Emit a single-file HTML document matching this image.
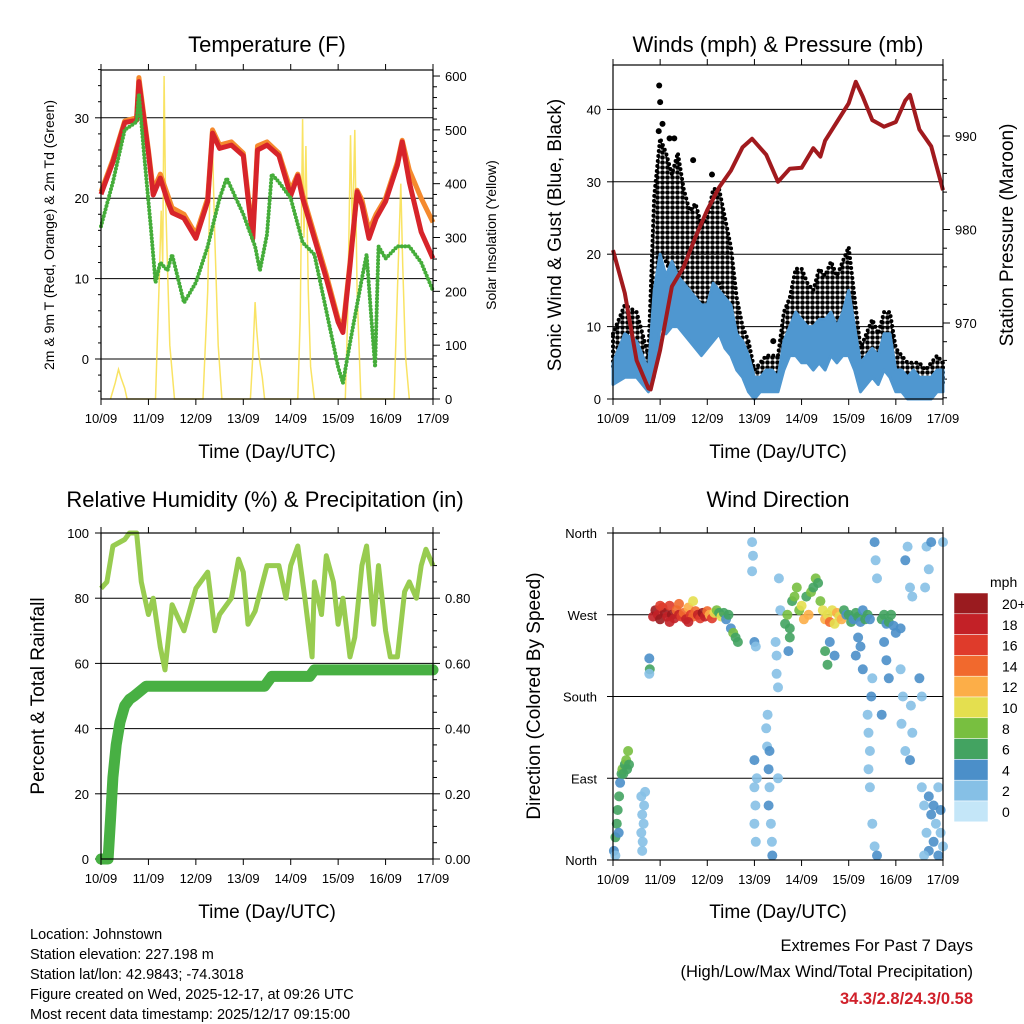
<!DOCTYPE html>
<html><head><meta charset="utf-8"><style>
html,body{margin:0;padding:0;background:#fff}
svg{display:block;font-family:"Liberation Sans",sans-serif}
</style></head><body>
<svg id="s" width="1024" height="1024" viewBox="0 0 1024 1024" xmlns="http://www.w3.org/2000/svg">
<defs>
<pattern id="dotpat" width="5" height="5" patternUnits="userSpaceOnUse"><circle cx="2.5" cy="2.5" r="2.3" fill="#000"/></pattern>
</defs>
</svg>
<script>
// ---------- DATA ----------
const dayLabels=["10/09","11/09","12/09","13/09","14/09","15/09","16/09","17/09"];
const tDays=[0,0.25,0.5,0.75,0.8,1.0,1.1,1.25,1.4,1.5,1.75,2.0,2.25,2.35,2.5,2.75,3.0,3.1,3.2,3.3,3.5,3.75,4.0,4.15,4.25,4.5,4.75,5.0,5.1,5.25,5.4,5.5,5.65,5.8,6.0,6.25,6.35,6.5,6.75,7.0];
const temp2m=[20.5,24.5,29.4,29.7,34.5,25.7,20.4,22.5,19.7,18.2,17.5,15,19.6,28.1,26.2,26.6,25.3,20,15,26,26.6,25.3,20.3,22.8,20,15,10,4.6,3.3,11.6,20.8,19.2,15,17.5,19.6,24.1,27,22,15.8,12.5];
const temp9m=[20.8,24.8,29.6,30,35,26,21,23,20.5,18.8,18,15.5,20,28.5,26.6,27,25.6,20.5,15.5,26.5,27,25.6,21,23,20.5,15.5,10.5,5,3.8,12,21,19.8,16,18,20,24.5,27.2,23.5,20,17];
const tdDays=[0,0.25,0.5,0.75,0.8,0.9,1.05,1.15,1.25,1.4,1.5,1.75,2.0,2.25,2.5,2.65,3.0,3.25,3.35,3.5,3.6,3.75,4.0,4.25,4.5,4.75,5.0,5.1,5.25,5.5,5.6,5.7,5.78,5.85,6.0,6.25,6.5,6.75,7.0];
const dewpt=[16.5,22,28.5,29.5,33,26,16.4,9.5,12,11,13,7,9.5,14,20,22.5,18,14,11,15.5,23,22,20,14.5,13,6,-1,-3,2,10,13,5,-1,14,12.5,14,14,12,8.5];
const solarT=[0.2,0.3,0.37,0.42,0.5,0.55,1.15,1.22,1.27,1.3,1.33,1.36,1.4,1.45,1.55,2.15,2.25,2.3,2.35,2.4,2.47,2.55,3.15,3.2,3.25,3.28,3.33,3.4,3.45,4.15,4.2,4.25,4.28,4.32,4.37,4.42,4.5,5.15,5.2,5.26,5.3,5.35,5.4,5.48,6.18,6.25,6.32,6.36,6.42,6.5];
const solarV=[0,30,55,40,20,0,0,200,350,250,600,380,250,100,0,0,200,400,470,300,100,0,0,80,180,130,80,40,0,0,150,520,300,470,200,60,0,0,150,490,300,500,200,0,0,200,400,250,80,0];

const wDays=[0,0.25,0.5,0.75,0.875,1.0,1.125,1.25,1.375,1.5,1.625,1.75,1.875,2.0,2.125,2.25,2.375,2.5,2.625,2.75,2.875,3.0,3.125,3.25,3.375,3.5,3.625,3.75,3.875,4.0,4.125,4.25,4.375,4.5,4.625,4.75,4.875,5.0,5.125,5.25,5.375,5.5,5.625,5.75,5.875,6.0,6.125,6.25,6.375,6.5,6.625,6.75,6.875,7.0];
const gustHi=[9,13,12,6,28,36,34,31,34,29,26,27,24,25,29,29,25,21,14,10,8,4,5,6,6,6,12,14,18,18,16,15,18,17,19,17,19,21,14,7,9,11,9,12,12,7,6,5,5,5,4,5,6,5];
const gustLo=[4,5,3,2,8,20,19,17,16,15,13,14,13,12,15,16,14,10,6,4,2,0,2,3,3,3,6,8,9,8,9,8,8,9,11,10,10,11,6,3,4,5,4,6,6,3,2,2,2,1,1,2,2,2];
const windHi=[5,9,8,4,15,20,17,19,17,16,15,14,13,13,16,15,14,13,9,8,6,3,3,4,4,3,8,10,12,11,10,10,11,11,12,10,12,15,10,5,6,7,6,9,9,4,4,3,4,3,3,3,4,4];
const windLo=[2,3,3,1,3,10,9,10,10,9,8,7,6,7,8,9,7,6,4,3,1,0,1,1,1,1,4,6,6,5,5,4,5,4,6,5,6,6,4,1,2,3,2,4,3,1,1,0,0,0,0,0,1,1];
const gustPeakT=[0.98,1.0,0.97,1.05,1.2,1.3,2.1,1.7,3.4];
const gustPeakV=[43.3,41,37,38,36,36,31,33,8];
const presDays=[0,0.25,0.5,0.75,0.8,1.0,1.25,1.5,1.75,2.0,2.25,2.5,2.75,2.95,3.25,3.5,3.75,4.0,4.25,4.4,4.5,4.75,5.0,5.15,5.3,5.5,5.75,6.0,6.2,6.3,6.5,6.75,7.0];
const pressure=[977.8,973.2,966,963,962.9,967.1,973.9,976,979.2,982.1,984.5,986.3,988.8,989.7,988,985.1,986.5,986.6,988.7,987.8,989.5,991.5,993.5,995.8,994.2,991.7,991,991.5,993.8,994.4,990.7,988.9,984.2];

const rhDays=[0,0.125,0.25,0.5,0.6,0.75,0.85,1.0,1.1,1.25,1.35,1.5,1.75,2.0,2.25,2.4,2.5,2.75,2.9,3.0,3.1,3.25,3.5,3.75,3.9,4.0,4.15,4.3,4.45,4.5,4.65,4.75,4.9,5.0,5.1,5.25,5.35,5.5,5.6,5.75,5.85,6.0,6.1,6.25,6.4,6.5,6.65,6.75,6.85,7.0];
const rhPct=[83,85,96,98,100,100,85,75,80,65,58,78,70,83,88,70,75,80,92,88,72,76,90,90,80,90,96,80,62,85,75,93,85,72,80,62,68,90,96,72,90,70,62,62,82,85,80,90,95,90];
const rainDays=[0,0.15,0.2,0.25,0.32,0.4,0.5,0.6,0.7,0.95,3.45,3.6,4.4,4.5,7.0];
const rainIn=[0,0,0.12,0.25,0.35,0.42,0.47,0.49,0.50,0.53,0.53,0.56,0.56,0.58,0.58];

const dirDay=[0.02,0.05,0.08,0.1,0.13,0.15,0.18,0.2,0.22,0.25,0.28,0.3,0.32,0.34,0.05,0.12,0.6,0.62,0.6,0.65,0.63,0.66,0.62,0.68,0.77,0.78,0.77,
0.85,0.9,0.95,1.0,1.05,1.1,1.15,1.2,1.25,1.3,1.35,1.4,1.45,1.5,1.55,1.6,1.65,1.7,1.75,1.8,1.85,1.9,1.95,2.0,2.05,2.1,2.15,2.2,2.25,2.3,2.35,2.4,2.45,2.5,2.55,2.6,2.65,1.4,1.0,1.7,1.2,1.6,
2.95,2.97,2.95,3.0,3.03,3.0,3.0,3.02,3.0,3.03,3.05,3.25,3.27,3.3,3.32,3.3,3.35,3.37,3.38,3.28,3.32,3.45,3.47,3.47,3.5,3.52,3.55,3.5,
3.65,3.7,3.75,3.8,3.85,3.9,3.95,4.0,4.05,4.1,4.15,4.2,4.25,4.3,4.35,4.4,4.45,4.5,4.55,4.6,4.65,4.7,4.75,4.8,4.85,4.5,4.55,4.6,4.7,3.75,3.72,4.9,4.95,
5.0,5.05,5.1,5.15,5.2,5.25,5.3,5.35,5.4,5.45,5.2,5.15,5.25,5.3,
5.4,5.42,5.45,5.42,5.45,5.5,5.55,5.6,5.55,5.57,5.6,5.5,5.48,
5.7,5.75,5.8,5.85,5.9,5.95,5.75,5.8,5.85,5.7,6.0,6.1,6.1,6.15,6.12,6.2,6.25,6.3,6.35,6.32,6.35,6.3,6.2,
6.55,6.6,6.65,6.7,6.75,6.8,6.85,6.9,6.95,7.0,6.7,6.8,6.9,6.95,6.6,6.65,6.7,6.62,6.75,7.0,6.55,6.5];
const dirDeg=[10,25,40,55,70,85,95,100,95,105,110,100,120,105,5,30,30,50,70,40,20,60,10,75,222,210,205,
268,275,270,265,278,272,268,280,270,266,275,270,268,272,265,278,270,268,274,270,266,272,268,274,270,266,272,275,272,268,272,265,270,255,250,245,240,282,280,285,262,262,
350,335,318,240,235,110,80,60,40,20,90,145,125,100,80,60,40,20,5,160,120,240,225,205,190,310,275,90,
260,270,255,285,290,300,275,280,265,290,270,295,300,310,305,285,275,265,270,262,275,260,272,268,265,230,215,240,225,245,230,275,270,
270,262,265,272,268,262,275,265,270,265,245,225,235,210,
160,140,120,100,80,40,15,5,350,330,310,200,180,
265,270,260,262,270,258,240,220,200,160,250,255,210,180,150,330,345,300,290,170,140,110,120,
80,60,30,10,50,20,40,5,30,15,70,60,80,55,5,345,320,300,350,350,180,200];
const dirSpd=[4,5,6,5,6,4,6,7,6,6,7,5,7,6,2,4,2,2,2,2,2,2,2,1,4,6,2,
18,20,18,20,16,20,18,16,20,18,14,18,16,14,18,12,16,14,14,18,16,20,18,14,12,16,10,8,6,10,6,4,6,4,8,6,6,14,16,10,18,18,
1,1,2,4,2,4,2,1,2,1,1,2,2,4,2,4,2,2,4,2,4,2,2,2,2,1,1,1,
6,8,6,6,8,8,8,10,12,6,12,8,6,8,6,8,10,12,10,14,10,10,12,10,12,6,6,4,4,6,4,6,4,
6,6,4,6,6,4,4,6,6,4,4,4,4,4,
2,2,2,2,1,1,2,4,4,2,2,2,4,
6,6,4,6,6,4,4,4,4,4,4,4,2,2,2,4,2,2,2,2,2,4,2,
2,2,2,4,4,4,2,4,2,2,4,4,2,4,2,2,2,2,4,2,2,4];
const legendLabels=["20+","18","16","14","12","10","8","6","4","2","0"];
const speedColors=["#c4e6f8","#86c0e6","#4b8fc9","#43a361","#78bf40","#e4df4f","#fcae48","#f1692d","#df3b2b","#c32127","#9a1b1f"];

// ---------- HELPERS ----------
const S=document.getElementById('s');
const NS='http://www.w3.org/2000/svg';
function mk(tag,attrs,parent){const e=document.createElementNS(NS,tag);for(const k in attrs)e.setAttribute(k,attrs[k]);(parent||S).appendChild(e);return e;}
function txt(x,y,str,size,anchor,parent,extra){const t=mk('text',Object.assign({x:x,y:y,'font-size':size,'text-anchor':anchor||'middle',fill:'#000'},extra||{}),parent);t.textContent=str;return t;}
function poly(xs,ys,fx,fy){return xs.map((v,i)=>fx(v).toFixed(1)+','+fy(ys[i]).toFixed(1)).join(' ');}
function grp(name){const g=mk('g',{});return g;}

function frame(g,L,T,R,B,fx){
  for(let d=0;d<=7;d++){const x=fx(d);
    mk('line',{x1:x,y1:B,x2:x,y2:B+6,stroke:'#000','stroke-width':1},g);
    mk('line',{x1:x,y1:T,x2:x,y2:T-6,stroke:'#000','stroke-width':1},g);
    const t=txt(x,B+24,dayLabels[d],13,'middle',g);
    
    
  }
}
function box(g,L,T,R,B){const r=mk('rect',{x:L,y:T,width:R-L,height:B-T,fill:'none',stroke:'#000','stroke-width':1.2},g);}

// ================= PANEL 1: TEMPERATURE =================
(function(){
  const g=grp('temperature-panel');
  const L=101,T=70,R=433,B=399;
  const fx=d=>L+d*47.43, fy=v=>359-v*8.04, fs=v=>399-v*0.5383;
  [0,10,20,30].forEach(v=>{mk('line',{x1:L,y1:fy(v),x2:R,y2:fy(v),stroke:'#000','stroke-width':1},g);
    mk('line',{x1:L-6,y1:fy(v),x2:L,y2:fy(v),stroke:'#000'},g);
    const t=txt(L-12,fy(v)+5,String(v),13,'end',g);});
  for(let v=-4;v<=36;v+=2){if(v%10)mk('line',{x1:L-3,y1:fy(v),x2:L,y2:fy(v),stroke:'#000'},g);}
  for(let v=0;v<=600;v+=20){const y=fs(v);if(y<T)continue;mk('line',{x1:R,y1:y,x2:R+(v%100?4:7),y2:y,stroke:'#000'},g);
    if(v%100===0){const t=txt(R+12,y+5,String(v),13,'start',g);}}
  const solar=mk('polyline',{points:poly(solarT,solarV,fx,fs),fill:'none',stroke:'#f7dc3c','stroke-width':1.5,'stroke-opacity':0.8},g);
  
  const o=mk('polyline',{points:poly(tDays,temp9m,fx,fy),fill:'none',stroke:'#f58a2e','stroke-width':5,'stroke-linejoin':'round'},g);
  
  const r=mk('polyline',{points:poly(tDays,temp2m,fx,fy),fill:'none',stroke:'#d7242a','stroke-width':5,'stroke-linejoin':'round'},g);
  
  const gr=mk('polyline',{points:poly(tdDays,dewpt,fx,fy),fill:'none',stroke:'#45ad3a','stroke-width':4,'stroke-dasharray':'0 3.5','stroke-linecap':'round','stroke-linejoin':'round'},g);
  
  box(g,L,T,R,B);frame(g,L,T,R,B,fx);
  const tt=txt(267,52,'Temperature (F)',22,'middle',g);
  const xl=txt(267,458,'Time (Day/UTC)',19,'middle',g);
  const yl=txt(0,0,'2m & 9m T (Red, Orange) & 2m Td (Green)',14,'middle',g,{transform:'translate(54,235) rotate(-90)'});
  const yr=txt(0,0,'Solar Insolation (Yellow)',14,'middle',g,{transform:'translate(496,235) rotate(-90)'});
})();

// ================= PANEL 2: WINDS & PRESSURE =================
(function(){
  const g=grp('winds-pressure-panel');
  const L=613,T=65,R=943,B=399;
  const fx=d=>L+d*47.14, fy=v=>399-v*7.24, fp=p=>323-(p-970)*9.35;
  [10,20,30,40].forEach(v=>mk('line',{x1:L,y1:fy(v),x2:R,y2:fy(v),stroke:'#000','stroke-width':1},g));
  [0,10,20,30,40].forEach(v=>{mk('line',{x1:L-6,y1:fy(v),x2:L,y2:fy(v),stroke:'#000'},g);
    const t=txt(L-12,fy(v)+5,String(v),13,'end',g);});
  for(let p=962;p<=996;p+=2){const y=fp(p);mk('line',{x1:R,y1:y,x2:R+(p%10?4:7),y2:y,stroke:'#000'},g);
    if(p%10===0){const t=txt(R+12,y+5,String(p),13,'start',g);}}
  const gband=wDays.map((d,i)=>fx(d).toFixed(1)+','+fy(gustHi[i]).toFixed(1)).concat(wDays.slice().reverse().map((d,j)=>{const i=wDays.length-1-j;return fx(d).toFixed(1)+','+fy(gustLo[i]).toFixed(1);})).join(' ');
  const gb=mk('polygon',{points:gband,fill:'url(#dotpat)',stroke:'#000','stroke-width':4,'stroke-dasharray':'0 5','stroke-linecap':'round','stroke-linejoin':'round'},g);
  
  gustPeakT.forEach((d,i)=>{const c=mk('circle',{cx:fx(d),cy:fy(gustPeakV[i]),r:3,fill:'#000'},g);});
  const wband=wDays.map((d,i)=>fx(d).toFixed(1)+','+fy(windHi[i]).toFixed(1)).concat(wDays.slice().reverse().map((d,j)=>{const i=wDays.length-1-j;return fx(d).toFixed(1)+','+fy(windLo[i]).toFixed(1);})).join(' ');
  const wb=mk('polygon',{points:wband,fill:'#4f97d0',stroke:'#4f97d0','stroke-width':3,'stroke-linejoin':'round'},g);
  
  const pl=mk('polyline',{points:poly(presDays,pressure,fx,fp),fill:'none',stroke:'#a11a1e','stroke-width':4,'stroke-linejoin':'round'},g);
  
  box(g,L,T,R,B);frame(g,L,T,R,B,fx);
  const tt=txt(778,52,'Winds (mph) & Pressure (mb)',22,'middle',g);
  const xl=txt(778,458,'Time (Day/UTC)',19,'middle',g);
  const yl=txt(0,0,'Sonic Wind & Gust (Blue, Black)',19,'middle',g,{transform:'translate(561,235) rotate(-90)'});
  const yr=txt(0,0,'Station Pressure (Maroon)',19,'middle',g,{transform:'translate(1013,235) rotate(-90)'});
})();

// ================= PANEL 3: RH & PRECIP =================
(function(){
  const g=grp('humidity-precip-panel');
  const L=101,T=533,R=433,B=859;
  const fx=d=>L+d*47.43, fy=v=>859-v*3.26, fr=v=>859-v*326;
  [20,40,60,80].forEach(v=>mk('line',{x1:L,y1:fy(v),x2:R,y2:fy(v),stroke:'#000','stroke-width':1},g));
  [0,20,40,60,80,100].forEach(v=>{mk('line',{x1:L-6,y1:fy(v),x2:L,y2:fy(v),stroke:'#000'},g);
    const t=txt(L-12,fy(v)+5,String(v),13,'end',g);});
  for(let k=0;k<=20;k++){const v=k*0.05,y=fr(v);mk('line',{x1:R,y1:y,x2:R+(k%4?4:7),y2:y,stroke:'#000'},g);
    if(k%4===0&&k<20){const t=txt(R+12,y+5,v.toFixed(2),13,'start',g);}}
  const rh=mk('polyline',{points:poly(rhDays,rhPct,fx,fy),fill:'none',stroke:'#98cc50','stroke-width':5,'stroke-linejoin':'round'},g);
  
  const rn=mk('polyline',{points:poly(rainDays,rainIn,fx,fr),fill:'none',stroke:'#48b043','stroke-width':11,'stroke-linejoin':'round','stroke-linecap':'round'},g);
  
  box(g,L,T,R,B);frame(g,L,T,R,B,fx);
  const tt=txt(265,507,'Relative Humidity (%) & Precipitation (in)',22,'middle',g);
  const xl=txt(267,918,'Time (Day/UTC)',19,'middle',g);
  const yl=txt(0,0,'Percent & Total Rainfall',19,'middle',g,{transform:'translate(44,696) rotate(-90)'});
})();

// ================= PANEL 4: WIND DIRECTION =================
(function(){
  const g=grp('wind-direction-panel');
  const L=613,T=533,R=943,B=860;
  const fx=d=>L+d*47.14, fy=v=>860-v*0.9083;
  [90,180,270].forEach(v=>mk('line',{x1:L,y1:fy(v),x2:R,y2:fy(v),stroke:'#000','stroke-width':1},g));
  const dl=["North","East","South","West","North"];
  [0,90,180,270,360].forEach((v,i)=>{mk('line',{x1:L-6,y1:fy(v),x2:L,y2:fy(v),stroke:'#000'},g);
    const t=txt(L-16,fy(v)+5,dl[i],13,'end',g);});
  const colIdx=s=>Math.max(0,Math.min(10,Math.round(s/2)));
  dirDay.forEach((d,i)=>{
    const c=mk('circle',{cx:fx(d).toFixed(1),cy:fy(dirDeg[i]).toFixed(1),r:5,fill:speedColors[colIdx(dirSpd[i])],'fill-opacity':0.9},g);
    
    
  });
  box(g,L,T,R,B);frame(g,L,T,R,B,fx);
  const tt=txt(778,507,'Wind Direction',22,'middle',g);
  const xl=txt(778,918,'Time (Day/UTC)',19,'middle',g);
  const yl=txt(0,0,'Direction (Colored By Speed)',19,'middle',g,{transform:'translate(540,696) rotate(-90)'});
  const lg=grp('speed-legend');
  const lt=txt(990,587,'mph',14,'start',lg);
  legendLabels.forEach((lab,i)=>{const y=593+i*20.8;
    const rc=mk('rect',{x:954,y:y,width:34,height:20.8,fill:speedColors[10-i],stroke:'#fff','stroke-width':0.5},lg);
    
    const t=txt(1002,y+16,lab,14,'start',lg);});
})();

// ================= FOOTER =================
(function(){
  const g=grp('station-info');
  ["Location: Johnstown","Station elevation: 227.198 m","Station lat/lon: 42.9843; -74.3018","Figure created on Wed, 2025-12-17, at 09:26 UTC","Most recent data timestamp: 2025/12/17 09:15:00"].forEach((s,i)=>{
    const t=txt(30,939+i*20,s,14.5,'start',g);});
  const e=grp('extremes');
  const a=txt(973,951,'Extremes For Past 7 Days',16.5,'end',e);
  const b=txt(973,977,'(High/Low/Max Wind/Total Precipitation)',16.5,'end',e);
  const c=txt(973,1004,'34.3/2.8/24.3/0.58',16.5,'end',e,{fill:'#d0202a','font-weight':'bold'});
})();
</script>
</body></html>
